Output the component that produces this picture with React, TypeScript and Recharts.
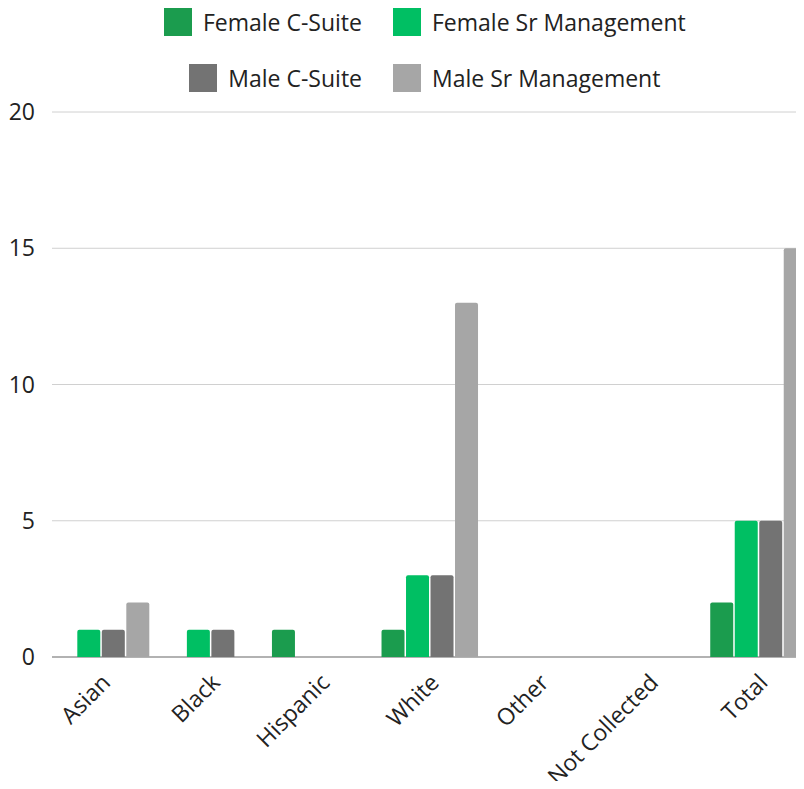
import { BarChart, Bar, XAxis, YAxis, CartesianGrid } from 'recharts'

const categories = ['Asian', 'Black', 'Hispanic', 'White', 'Other', 'Not Collected', 'Total']
const femaleCSuite = [0, 0, 1, 1, 0, 0, 2]
const femaleSrMgmt = [1, 1, 0, 3, 0, 0, 5]
const maleCSuite = [1, 1, 0, 3, 0, 0, 5]
const maleSrMgmt = [2, 0, 0, 13, 0, 0, 15]
const yTicks = [0, 5, 10, 15, 20]

const series = [
  { key: 'femaleCSuite', name: 'Female C-Suite', color: '#1b9c4e' },
  { key: 'femaleSrMgmt', name: 'Female Sr Management', color: '#00bf63' },
  { key: 'maleCSuite', name: 'Male C-Suite', color: '#737373' },
  { key: 'maleSrMgmt', name: 'Male Sr Management', color: '#a6a6a6' },
]

const data = categories.map((name, i) => ({
  name,
  femaleCSuite: femaleCSuite[i],
  femaleSrMgmt: femaleSrMgmt[i],
  maleCSuite: maleCSuite[i],
  maleSrMgmt: maleSrMgmt[i],
}))

const FONT = '"Open Sans", sans-serif'
const FS = 23

const XTick = ({ x, y, payload }: any) => (
  <g transform={`translate(${x + 10},${y + 27})`}>
    <text transform="rotate(-45)" textAnchor="end" fill="#222" fontSize={FS} fontFamily={FONT}>
      {payload.value}
    </text>
  </g>
)

// gridlines start a bit right of the plot edge, bottom one doubles as the axis line
const GridLine = (props: any) => {
  const isBase = props.y1 > 650
  return (
    <line
      x1={props.x1 + 5}
      x2={props.x2}
      y1={props.y1}
      y2={props.y2}
      stroke={isBase ? '#999999' : '#d0d0d0'}
      strokeWidth={isBase ? 1.5 : 1}
    />
  )
}

function LegendItem({ name, color }: { name: string; color: string }) {
  return (
    <div style={{ display: 'flex', alignItems: 'center' }}>
      <span style={{ width: 28, height: 28, background: color, marginRight: 11, display: 'inline-block' }} />
      <span style={{ fontSize: FS, color: '#222' }}>{name}</span>
    </div>
  )
}

function ChartLegend() {
  const rows = [[series[0], series[1]], [series[2], series[3]]]
  return (
    <div style={{ position: 'absolute', left: 0, top: 0, width: 804, fontFamily: FONT, zIndex: 1 }}>
      {rows.map((row, r) => (
        <div key={r} style={{ position: 'absolute', top: r === 0 ? 6 : 62, left: 0, width: 804, height: 32, display: 'flex' }}>
          <div style={{ width: 362, display: 'flex', justifyContent: 'flex-end' }}>
            <LegendItem name={row[0].name} color={row[0].color} />
          </div>
          <div style={{ marginLeft: 31 }}>
            <LegendItem name={row[1].name} color={row[1].color} />
          </div>
        </div>
      ))}
    </div>
  )
}

export default function App() {
  return (
    <div style={{ position: 'relative', width: 804, height: 789, margin: -8, overflow: 'hidden', background: '#fff' }}>
      <ChartLegend />
      <BarChart
        width={830}
        height={789}
        data={data}
        margin={{ top: 112, right: 16, left: 0, bottom: 102 }}
        barCategoryGap="5.3%"
        barGap={1.5}
      >
        <CartesianGrid vertical={false} horizontal={GridLine} />
        <XAxis
          dataKey="name"
          height={30}
          axisLine={false}
          tickLine={false}
          tickSize={0}
          tickMargin={0}
          interval={0}
          tick={<XTick />}
        />
        <YAxis
          width={47}
          domain={[0, 20]}
          ticks={yTicks}
          axisLine={false}
          tickLine={false}
          tickSize={0}
          tickMargin={12}
          tick={{ fill: '#222', fontSize: FS, fontFamily: FONT }}
        />
        {series.map((s) => (
          <Bar
            key={s.key}
            dataKey={s.key}
            name={s.name}
            fill={s.color}
            radius={[2, 2, 0, 0]}
            isAnimationActive={false}
          />
        ))}
      </BarChart>
    </div>
  )
}
